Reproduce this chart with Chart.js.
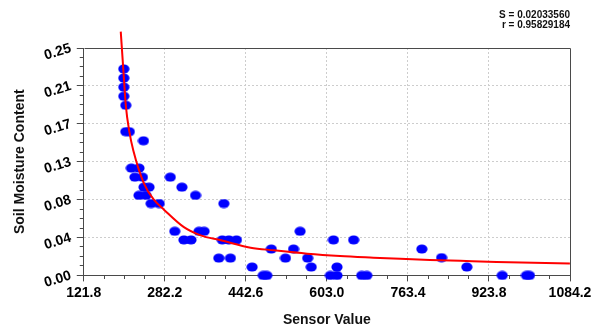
<!DOCTYPE html>
<html>
<head>
<meta charset="utf-8">
<script src="https://cdn.jsdelivr.net/npm/chart.js@4/dist/chart.umd.min.js"></script>
<style>
  html, body { margin: 0; padding: 0; background: #ffffff; }
  #wrap { width: 602px; height: 329px; position: relative; }
</style>
</head>
<body>
<div id="wrap"><canvas id="chart"></canvas></div>
<script>
// Calibration readings: raw sensor value vs. measured soil moisture
const sensorValues = [201, 201, 201, 201, 205, 205, 212, 240, 216, 231, 223, 238, 241, 251, 231, 245, 255, 271,
  293, 316, 343, 399, 302, 320, 334, 350, 360, 396, 409, 424, 389, 412, 455, 477, 484, 493, 521, 537,
  550, 565, 572, 616, 656, 610, 623, 623, 672, 682, 791, 830, 880, 950, 998, 1004];
const moistureValues = [0.227, 0.217, 0.207, 0.197, 0.187, 0.158, 0.158, 0.148, 0.118, 0.118, 0.108, 0.108, 0.097, 0.097, 0.088, 0.088, 0.079, 0.079,
  0.108, 0.097, 0.088, 0.079, 0.0485, 0.039, 0.039, 0.0485, 0.0485, 0.039, 0.039, 0.039, 0.019, 0.019, 0.0092, 0, 0, 0.029, 0.019, 0.029,
  0.0485, 0.019, 0.0092, 0.039, 0.039, 0, 0, 0.0092, 0, 0, 0.029, 0.0195, 0.0092, 0, 0, 0];

// Fitted calibration curve
const fitX = [195, 200, 205, 212, 220, 241, 261, 281, 320, 353, 393, 452, 498, 564, 629, 695, 748, 807, 867, 939, 1084];
const fitY = [0.268, 0.227, 0.187, 0.158, 0.137, 0.101, 0.083, 0.072, 0.053, 0.044, 0.0386, 0.0305, 0.0276, 0.0239, 0.0213, 0.0195, 0.0182, 0.0170, 0.0160, 0.0148, 0.0130];

// Axis ticks
const xTickValues = [121.8, 282.2, 442.6, 603.0, 763.4, 923.8, 1084.2];
const xTickLabels = ['121.8', '282.2', '442.6', '603.0', '763.4', '923.8', '1084.2'];
const yTickValues = [0, 0.25 / 6, 0.5 / 6, 0.125, 1 / 6, 1.25 / 6, 0.25];
const yTickLabels = ['0.00', '0.04', '0.08', '0.13', '0.17', '0.21', '0.25'];
const minorPerMajor = 4;

// Fit statistics
const statLines = ['S = 0.02033560', 'r = 0.95829184'];

const FONT = "'Liberation Sans', Arial, sans-serif";
const AXIS_COLOR = '#4a4a4a';
const GRID_COLOR = '#cdcdcd';

// Oval marker used for each reading
function makeDot() {
  const c = document.createElement('canvas');
  c.width = 12; c.height = 10;
  const g = c.getContext('2d');
  g.fillStyle = '#0000ff';
  g.beginPath();
  g.ellipse(6, 5, 5.6, 4.6, 0, 0, Math.PI * 2);
  g.fill();
  return c;
}
const dot = makeDot();

// Major ticks split into minor subdivisions
function withMinors(majors) {
  const out = [];
  for (let i = 0; i < majors.length - 1; i++) {
    const step = (majors[i + 1] - majors[i]) / minorPerMajor;
    for (let k = 0; k < minorPerMajor; k++) out.push(majors[i] + step * k);
  }
  out.push(majors[majors.length - 1]);
  return out;
}

const isMajor = (ctx) => ctx.index % minorPerMajor === 0;
const isInnerMajor = (ctx, n) => isMajor(ctx) && ctx.index !== 0 && ctx.index !== n - 1;

const xCount = (xTickValues.length - 1) * minorPerMajor + 1;
const yCount = (yTickValues.length - 1) * minorPerMajor + 1;

// Frame around the plot area
const plotFrame = {
  id: 'plotFrame',
  beforeDatasetsDraw(chart) {
    const { ctx, chartArea: a } = chart;
    ctx.save();
    ctx.strokeStyle = AXIS_COLOR;
    ctx.lineWidth = 1;
    ctx.beginPath();
    ctx.moveTo(Math.round(a.left) + 0.5, Math.round(a.top) + 0.5);
    ctx.lineTo(Math.round(a.right) + 0.5, Math.round(a.top) + 0.5);
    ctx.lineTo(Math.round(a.right) + 0.5, Math.round(a.bottom) + 0.5);
    ctx.stroke();
    ctx.restore();
  }
};

new Chart(document.getElementById('chart'), {
  type: 'scatter',
  data: {
    datasets: [
      {
        label: 'Fit',
        data: fitX.map((x, i) => ({ x, y: fitY[i] })),
        showLine: true,
        borderColor: '#ff0000',
        borderWidth: 2,
        pointRadius: 0,
        cubicInterpolationMode: 'monotone',
        clip: false,
        order: 0
      },
      {
        label: 'Readings',
        data: sensorValues.map((x, i) => ({ x, y: moistureValues[i] })),
        pointStyle: dot,
        pointRadius: 5,
        pointBorderWidth: 0,
        clip: false,
        order: 1
      }
    ]
  },
  options: {
    responsive: true,
    maintainAspectRatio: false,
    animation: false,
    events: [],
    layout: { padding: { left: 0, right: 32, top: 0, bottom: 0 } },
    plugins: {
      legend: { display: false },
      tooltip: { enabled: false },
      title: {
        display: true,
        text: statLines,
        align: 'end',
        color: '#111111',
        font: { family: FONT, size: 10, weight: 'bold', lineHeight: 1.0 },
        padding: { top: 10, bottom: 18 }
      }
    },
    scales: {
      x: {
        type: 'linear',
        min: xTickValues[0],
        max: xTickValues[xTickValues.length - 1],
        afterBuildTicks: (scale) => { scale.ticks = withMinors(xTickValues).map(v => ({ value: v })); },
        ticks: {
          autoSkip: false,
          maxRotation: 0,
          minRotation: 0,
          padding: 3,
          color: '#000000',
          font: { family: FONT, size: 14, weight: 'bold' },
          callback: (v, i) => (i % minorPerMajor === 0 ? xTickLabels[i / minorPerMajor] : '')
        },
        grid: {
          drawTicks: true,
          tickLength: 6,
          color: (ctx) => (isInnerMajor(ctx, xCount) ? GRID_COLOR : 'rgba(0,0,0,0)'),
          tickColor: AXIS_COLOR,
          tickWidth: 1,
          tickBorderDash: (ctx) => (isMajor(ctx) ? [] : [3, 100])
        },
        border: { display: true, color: AXIS_COLOR, width: 1, dash: [2, 2] },
        title: {
          display: true,
          text: 'Sensor Value',
          color: '#111111',
          font: { family: FONT, size: 14, weight: 'bold' },
          padding: { top: 8, bottom: 0 }
        }
      },
      y: {
        type: 'linear',
        min: yTickValues[0],
        max: yTickValues[yTickValues.length - 1],
        afterBuildTicks: (scale) => { scale.ticks = withMinors(yTickValues).map(v => ({ value: v })); },
        ticks: {
          autoSkip: false,
          minRotation: 17,
          maxRotation: 17,
          padding: 6,
          color: '#000000',
          font: { family: FONT, size: 14, weight: 'bold' },
          callback: (v, i) => (i % minorPerMajor === 0 ? yTickLabels[i / minorPerMajor] : '')
        },
        grid: {
          drawTicks: true,
          tickLength: 7,
          color: (ctx) => (isInnerMajor(ctx, yCount) ? GRID_COLOR : 'rgba(0,0,0,0)'),
          tickColor: AXIS_COLOR,
          tickWidth: 1,
          tickBorderDash: (ctx) => (isMajor(ctx) ? [] : [0, 3, 4, 100])
        },
        border: { display: true, color: AXIS_COLOR, width: 1, dash: [2, 2] },
        title: {
          display: true,
          text: 'Soil Moisture Content',
          color: '#111111',
          font: { family: FONT, size: 14, weight: 'bold' },
          padding: { top: 12, bottom: 5 }
        }
      }
    }
  },
  plugins: [plotFrame]
});
</script>
</body>
</html>
